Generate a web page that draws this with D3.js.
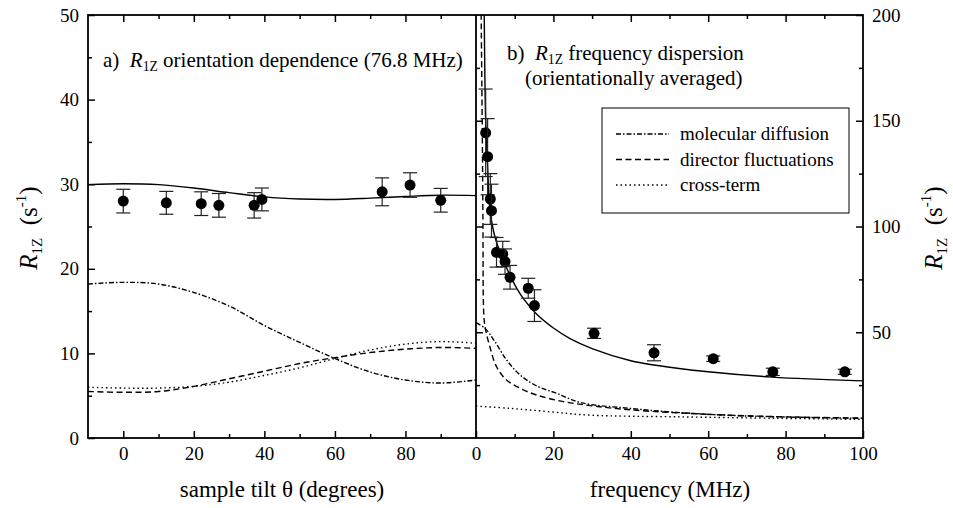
<!DOCTYPE html>
<meta charset="utf-8">
<title>R1Z orientation dependence and frequency dispersion</title>
<style>
body { margin: 0; background: #fff; }
svg { display: block; font-family: "Liberation Serif", "Times New Roman", serif; }
.axis line { stroke: #000; stroke-width: 1.5; }
.axis text { font-size: 19px; fill: #000; font-family: "Liberation Serif", serif; }
.frame { fill: none; stroke: #000; stroke-width: 1.8; }
.fit { fill: none; stroke: #000; stroke-width: 1.4; }
.err { stroke: #222; stroke-width: 1.2; }
text { white-space: pre; }
</style>
<body>
<script src="https://d3js.org/d3.v7.min.js"></script>
<script>

// a) orientation dependence at 76.8 MHz
var tiltDeg = [0, 12.2, 22.1, 27.1, 37.1, 39.3, 73.4, 81.3, 90];
var tiltR1z = [28.0, 27.8, 27.7, 27.5, 27.5, 28.2, 29.1, 29.9, 28.1];
var tiltErr = [1.4, 1.35, 1.4, 1.4, 1.5, 1.35, 1.65, 1.45, 1.4];

var tiltGrid  = [-10, 0, 10, 20, 30, 40, 50, 60, 70, 80, 90, 100];
var tiltTotal = [29.95, 30.05, 29.95, 29.55, 29.0, 28.5, 28.25, 28.2, 28.35, 28.55, 28.7, 28.65];
var tiltMD    = [18.2, 18.4, 18.2, 17.2, 15.6, 13.3, 11.3, 9.4, 7.8, 6.85, 6.5, 6.85];
var tiltDF    = [5.5, 5.4, 5.5, 6.1, 7.0, 7.9, 8.8, 9.5, 10.1, 10.5, 10.7, 10.6];
var tiltCT    = [6.0, 5.9, 5.9, 6.1, 6.6, 7.4, 8.3, 9.4, 10.4, 11.1, 11.4, 11.2];

// b) frequency dispersion (orientationally averaged)
var freqMHz = [2.5, 3.0, 3.7, 4.0, 5.3, 6.9, 7.5, 8.8, 13.5, 15.1, 30.5, 46, 61.3, 76.7, 95.3];
var freqR1z = [144.3, 133, 113, 107.5, 87.8, 87.0, 83.4, 76.0, 70.8, 62.6, 49.5, 40.3, 37.5, 31.3, 31.3];
var freqErr = [20.7, 18, 12, 12.5, 7, 6, 6, 5.6, 4.7, 7.5, 2.4, 3.8, 1.3, 1.7, 1.2];

var totalX = [2.1, 2.3, 2.5, 3.0, 3.6, 4.5, 5.6, 7, 8.8, 10, 12.2, 15.7, 20, 24.3, 30, 40, 46, 60, 76.5, 100];
var totalY = [205, 170, 150, 128, 108, 98, 91, 84, 77, 72.5, 66, 58.5, 52, 47, 42.3, 36.5, 34.5, 31.3, 28.8, 27.0];
var mdX = [0, 2.3, 4.9, 7.9, 11.4, 15.7, 20.9, 26.9, 39.8, 52.7, 69.9, 100];
var mdY = [54.5, 51.9, 45.5, 36.9, 29.8, 24.6, 21.1, 16.8, 14.0, 12.0, 10.4, 9.3];
var dfX = [1.3, 1.6, 1.8, 1.9, 2.1, 2.5, 3.6, 5.3, 7.9, 11.4, 15.7, 22.6, 30, 40, 60, 80, 100];
var dfY = [205, 150, 100, 65, 56, 51, 43, 33.7, 27.4, 23.5, 20.3, 17.2, 15.2, 13.3, 11.2, 10.0, 9.4];
var ctX = [0, 8.8, 19.1, 29.5, 52.7, 78.5, 100];
var ctY = [15.1, 14.0, 12.4, 10.8, 10.0, 9.3, 8.8];

var legendNames = ["molecular diffusion", "director fluctuations", "cross-term"];
var dashes = ["5,2,1.5,2", "6,3.5", "1.5,3"];

var width = 953, height = 508;
var plotTop = 15, plotBottom = 438;

var svg = d3.select("body").append("svg")
    .attr("width", width)
    .attr("height", height);

var xA = d3.scaleLinear().domain([-10, 100]).range([88, 476]);
var yA = d3.scaleLinear().domain([0, 50]).range([plotBottom, plotTop]);
var xB = d3.scaleLinear().domain([0, 100]).range([476, 863]);
var yB = d3.scaleLinear().domain([0, 200]).range([plotBottom, plotTop]);

// clip paths
var defs = svg.append("defs");
defs.append("clipPath").attr("id", "clipA").append("rect")
    .attr("x", 88).attr("y", plotTop).attr("width", 388).attr("height", plotBottom - plotTop);
defs.append("clipPath").attr("id", "clipB").append("rect")
    .attr("x", 476).attr("y", plotTop).attr("width", 387).attr("height", plotBottom - plotTop);

function axisAt(axis, tx, ty, values, size, labels) {
  var a = axis.tickValues(values).tickSize(size).tickSizeOuter(0).tickPadding(9);
  if (!labels) a.tickFormat("");
  var g = svg.append("g").attr("class", "axis")
      .attr("transform", "translate(" + tx + "," + ty + ")")
      .call(a);
  g.select(".domain").remove();
  return g;
}

// panel a axes
axisAt(d3.axisBottom(xA), 0, plotBottom, [0, 20, 40, 60, 80], -7, true);
axisAt(d3.axisBottom(xA), 0, plotBottom, [10, 30, 50, 70, 90], -4, false);
axisAt(d3.axisTop(xA), 0, plotTop, [0, 20, 40, 60, 80], -7, false);
axisAt(d3.axisTop(xA), 0, plotTop, [10, 30, 50, 70, 90], -4, false);
axisAt(d3.axisLeft(yA), 88, 0, [0, 10, 20, 30, 40, 50], -7, true);
axisAt(d3.axisLeft(yA), 88, 0, [5, 15, 25, 35, 45], -4, false);

// panel b axes
axisAt(d3.axisBottom(xB), 0, plotBottom, [0, 20, 40, 60, 80, 100], -7, true);
axisAt(d3.axisBottom(xB), 0, plotBottom, [10, 30, 50, 70, 90], -4, false);
axisAt(d3.axisTop(xB), 0, plotTop, [20, 40, 60, 80], -7, false);
axisAt(d3.axisTop(xB), 0, plotTop, [10, 30, 50, 70, 90], -4, false);
axisAt(d3.axisRight(yB), 863, 0, [50, 100, 150, 200], -7, true);
axisAt(d3.axisRight(yB), 863, 0, [25, 75, 125, 175], -4, false);
axisAt(d3.axisLeft(yB), 476, 0, [50, 100, 150], -7, false);
axisAt(d3.axisLeft(yB), 476, 0, [25, 75, 125, 175], -4, false);

svg.append("rect").attr("class", "frame")
    .attr("x", 88).attr("y", plotTop).attr("width", 775).attr("height", plotBottom - plotTop);
svg.append("line").attr("class", "frame")
    .attr("x1", 476).attr("x2", 476).attr("y1", plotTop).attr("y2", plotBottom);

var curve = d3.curveCatmullRom.alpha(0.5);

function drawLine(g, xs, ys, x, y, dash) {
  var pts = xs.map(function(v, i) { return [x(v), y(ys[i])]; });
  g.append("path")
      .attr("class", "fit")
      .attr("stroke-dasharray", dash)
      .attr("d", d3.line().curve(curve)(pts));
}

function drawPoints(g, xs, ys, es, x, y) {
  xs.forEach(function(v, i) {
    var cx = x(v), y1 = y(ys[i] + es[i]), y2 = y(ys[i] - es[i]);
    g.append("line").attr("class", "err").attr("x1", cx).attr("x2", cx).attr("y1", y1).attr("y2", y2);
    g.append("line").attr("class", "err").attr("x1", cx - 7).attr("x2", cx + 7).attr("y1", y1).attr("y2", y1);
    g.append("line").attr("class", "err").attr("x1", cx - 7).attr("x2", cx + 7).attr("y1", y2).attr("y2", y2);
    g.append("circle").attr("cx", cx).attr("cy", y(ys[i])).attr("r", 5.5).attr("fill", "#000");
  });
}

var gA = svg.append("g").attr("clip-path", "url(#clipA)");
drawLine(gA, tiltGrid, tiltTotal, xA, yA, null);
drawLine(gA, tiltGrid, tiltMD, xA, yA, dashes[0]);
drawLine(gA, tiltGrid, tiltDF, xA, yA, dashes[1]);
drawLine(gA, tiltGrid, tiltCT, xA, yA, dashes[2]);
drawPoints(gA, tiltDeg, tiltR1z, tiltErr, xA, yA);

var gB = svg.append("g").attr("clip-path", "url(#clipB)");
drawLine(gB, totalX, totalY, xB, yB, null);
drawLine(gB, mdX, mdY, xB, yB, dashes[0]);
drawLine(gB, dfX, dfY, xB, yB, dashes[1]);
drawLine(gB, ctX, ctY, xB, yB, dashes[2]);
drawPoints(gB, freqMHz, freqR1z, freqErr, xB, yB);

// panel titles
function rTitle(t, size) {
  t.append("tspan").attr("font-style", "italic").text("R");
  t.append("tspan").attr("font-size", size * 0.65).attr("dy", 4).text("1Z");
}

var ta = svg.append("text").attr("x", 103).attr("y", 67).attr("font-size", 21);
ta.append("tspan").text("a)  ");
rTitle(ta, 21);
ta.append("tspan").attr("dy", -4).text(" orientation dependence (76.8 MHz)");

var tb = svg.append("text").attr("x", 507).attr("y", 60).attr("font-size", 21);
tb.append("tspan").text("b)  ");
rTitle(tb, 21);
tb.append("tspan").attr("dy", -4).text(" frequency dispersion");
svg.append("text").attr("x", 525).attr("y", 85).attr("font-size", 21)
    .text("(orientationally averaged)");

// legend
var lg = svg.append("g");
lg.append("rect").attr("x", 602).attr("y", 108).attr("width", 247).attr("height", 105)
    .attr("fill", "#fff").attr("stroke", "#000").attr("stroke-width", 1);
legendNames.forEach(function(name, i) {
  var ly = 134 + i * 25.5;
  lg.append("line").attr("class", "fit").attr("stroke-dasharray", dashes[i])
      .attr("x1", 616).attr("x2", 669).attr("y1", ly).attr("y2", ly);
  lg.append("text").attr("x", 680).attr("y", ly + 6).attr("font-size", 19).text(name);
});

// axis titles
svg.append("text").attr("x", 282).attr("y", 497).attr("font-size", 23)
    .attr("text-anchor", "middle").text("sample tilt \u03b8 (degrees)");
svg.append("text").attr("x", 670).attr("y", 497).attr("font-size", 23)
    .attr("text-anchor", "middle").text("frequency (MHz)");

function yTitle(cx, cy) {
  var t = svg.append("text")
      .attr("transform", "translate(" + cx + "," + cy + ") rotate(-90)")
      .attr("text-anchor", "middle").attr("font-size", 25);
  t.append("tspan").attr("font-style", "italic").text("R");
  t.append("tspan").attr("font-size", 15).attr("dy", 5).text("1Z");
  t.append("tspan").attr("dy", -5).text("  (s");
  t.append("tspan").attr("font-size", 15).attr("dy", -11).text("-1");
  t.append("tspan").attr("dy", 11).text(")");
}
yTitle(37, 228);
yTitle(942, 228);

</script>
